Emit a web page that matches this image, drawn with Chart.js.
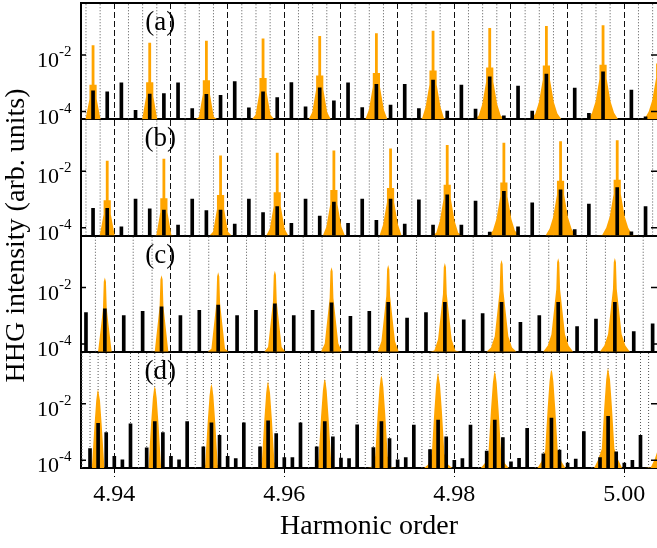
<!DOCTYPE html>
<html>
<head>
<meta charset="utf-8">
<script src="https://cdn.jsdelivr.net/npm/chart.js@4.4.0/dist/chart.umd.min.js"></script>
<style>
  html, body { margin: 0; padding: 0; background: #fff; }
  #wrap { width: 657px; height: 548px; }
</style>
</head>
<body>
<div id="wrap"><canvas id="hhgChart" width="657" height="548"></canvas></div>
<script>
// x axis (harmonic order)
const xMin = 4.936082;
const xMax = 5.003847;
const xTickVals = [4.94, 4.96, 4.98, 5.00];
const dashedLines = [4.94, 4.946667, 4.953333, 4.96, 4.966667, 4.973333, 4.98, 4.986667, 4.993333, 5.00];

// y axes, log10 of the intensity, same range in every panel
const yMinLog = -4.27;
const yMaxLog = -0.155;
const yTickLog = [-4, -2];
const panelIds = ['ya', 'yb', 'yc', 'yd'];
const panelNames = ['(a)', '(b)', '(c)', '(d)'];
const panelLabelX = 4.9454;

// panels (a) and (b) share the same sampling points
const abSlots = [
  4.9375, 4.939167, 4.940833, 4.9425,
  4.944167, 4.945833, 4.9475, 4.949167,
  4.950833, 4.9525, 4.954167, 4.955833,
  4.9575, 4.959167, 4.960833, 4.9625,
  4.964167, 4.965833, 4.9675, 4.969167,
  4.970833, 4.9725, 4.974167, 4.975833,
  4.9775, 4.979167, 4.980833, 4.9825,
  4.984167, 4.985833, 4.9875, 4.989167,
  4.990833, 4.9925, 4.994167, 4.995833,
  4.9975, 4.999167, 5.000833, 5.0025
];
const aBarsLog = [
  -3.26, -3.30, -2.98, -3.95,
  -3.38, -3.36, -2.98, -3.89,
  -3.39, -3.42, -2.94, -3.87,
  -3.30, -3.50, -2.97, -3.83,
  -3.16, -3.62, -2.98, -3.86,
  -3.03, -3.77, -3.03, -3.89,
  -2.88, -3.98, -3.06, -3.91,
  -2.77, -4.15, -3.10, -3.98,
  -2.67, null, -3.17, -4.06,
  -2.59, null, -3.24, -4.18
];
const bBarsLog = [
  -3.31, -3.31, -3.96, -2.98,
  -3.33, -3.37, -3.90, -2.98,
  -3.39, -3.37, -3.87, -2.98,
  -3.46, -3.25, -3.84, -2.98,
  -3.58, -3.09, -3.84, -2.98,
  -3.73, -2.98, -3.87, -3.01,
  -3.90, -2.83, -3.90, -3.05,
  -4.15, -2.71, -3.96, -3.11,
  null, -2.65, -4.06, -3.16,
  null, -2.57, -4.14, -3.25
];
const aPeakX = [4.9375, 4.944167, 4.950833, 4.9575, 4.964167, 4.970833, 4.9775, 4.984167, 4.990833, 4.9975, 5.004167];
const aPeakLog = [-1.65, -1.56, -1.49, -1.41, -1.32, -1.23, -1.14, -1.04, -0.97, -0.94, -0.90];
const bPeakX = [4.939167, 4.945833, 4.9525, 4.959167, 4.965833, 4.9725, 4.979167, 4.985833, 4.9925, 4.999167];
const bPeakLog = [-1.62, -1.55, -1.44, -1.34, -1.26, -1.19, -1.07, -0.99, -0.93, -0.90];
const abDotted = [
  4.936667, 4.938333, 4.941667, 4.943333, 4.945, 4.948333, 4.95, 4.951667, 4.955,
  4.956667, 4.958333, 4.961667, 4.963333, 4.965, 4.968333, 4.97, 4.971667, 4.975,
  4.976667, 4.978333, 4.981667, 4.983333, 4.985, 4.988333, 4.99, 4.991667, 4.995,
  4.996667, 4.998333, 5.001667, 5.003333
];

// panel (c)
const cSlots = [
  4.936667, 4.938889, 4.941111, 4.943333, 4.945556, 4.947778, 4.95, 4.952222,
  4.954444, 4.956667, 4.958889, 4.961111, 4.963333, 4.965556, 4.967778, 4.97,
  4.972222, 4.974444, 4.976667, 4.978889, 4.981111, 4.983333, 4.985556, 4.987778,
  4.99, 4.992222, 4.994444, 4.996667, 4.998889, 5.001111, 5.003333
];
const cBarsLog = [
  -2.88, -2.75, -2.99, -2.84, -2.68, -2.99, -2.80, -2.62,
  -2.99, -2.80, -2.57, -2.99, -2.80, -2.54, -3.02, -2.84,
  -2.52, -3.08, -2.88, -2.52, -3.14, -2.92, -2.52, -3.23,
  -2.99, -2.52, -3.38, -3.11, -2.52, -3.56, -3.28
];
const cPeakX = [4.938889, 4.945556, 4.952222, 4.958889, 4.965556, 4.972222, 4.978889, 4.985556, 4.992222, 4.998889];
const cPeakLog = [-1.64, -1.56, -1.46, -1.40, -1.28, -1.20, -1.13, -1.02, -0.96, -0.95];
const cDotted = [
  4.937778, 4.942222, 4.944444, 4.948889, 4.951111, 4.955556, 4.957778, 4.962222,
  4.964444, 4.968889, 4.971111, 4.975556, 4.977778, 4.982222, 4.984444, 4.988889,
  4.991111, 4.995556, 4.997778, 5.002222
];

// panel (d)
const dSlots = [
  4.937143, 4.938095, 4.939048, 4.94, 4.940952, 4.941905,
  4.94381, 4.944762, 4.945714, 4.946667, 4.947619, 4.948571,
  4.950476, 4.951429, 4.952381, 4.953333, 4.954286, 4.955238,
  4.957143, 4.958095, 4.959048, 4.96, 4.960952, 4.961905,
  4.96381, 4.964762, 4.965714, 4.966667, 4.967619, 4.968571,
  4.970476, 4.971429, 4.972381, 4.973333, 4.974286, 4.975238,
  4.977143, 4.978095, 4.979048, 4.98, 4.980952, 4.981905,
  4.98381, 4.984762, 4.985714, 4.986667, 4.987619, 4.988571,
  4.990476, 4.991429, 4.992381, 4.993333, 4.994286, 4.995238,
  4.997143, 4.998095, 4.999048, 5.0, 5.000952, 5.001905
];
const dBarsLog = [
  -3.58, -2.69, -3.02, -3.86, -3.98, -2.71,
  -3.56, -2.63, -3.02, -3.86, -3.98, -2.63,
  -3.52, -2.67, -3.11, -3.86, -3.94, -2.67,
  -3.52, -2.60, -3.05, -3.90, -3.90, -2.67,
  -3.52, -2.63, -3.17, -3.92, -3.94, -2.74,
  -3.55, -2.63, -3.23, -3.98, -3.90, -2.75,
  -3.62, -2.57, -3.17, -4.00, -3.94, -2.75,
  -3.67, -2.57, -3.19, -4.05, -3.93, -2.87,
  -3.77, -2.50, -3.64, -4.10, -3.95, -2.98,
  -3.90, -2.44, -3.70, -4.10, -4.00, -3.11
];
const dPeakX = [4.938095, 4.944762, 4.951429, 4.958095, 4.964762, 4.971429, 4.978095, 4.984762, 4.991429, 4.998095, 5.004762];
const dPeakLog = [-1.48, -1.38, -1.30, -1.20, -1.12, -1.00, -0.90, -0.85, -0.79, -0.73, -0.70];
const dDotted = [
  4.93619,
  4.937143, 4.938095, 4.939048, 4.941905, 4.942857,
  4.94381, 4.944762, 4.945714, 4.948571, 4.949524,
  4.950476, 4.951429, 4.952381, 4.955238, 4.95619,
  4.957143, 4.958095, 4.959048, 4.961905, 4.962857,
  4.96381, 4.964762, 4.965714, 4.968571, 4.969524,
  4.970476, 4.971429, 4.972381, 4.975238, 4.97619,
  4.977143, 4.978095, 4.979048, 4.981905, 4.982857,
  4.98381, 4.984762, 4.985714, 4.988571, 4.989524,
  4.990476, 4.991429, 4.992381, 4.995238, 4.99619,
  4.997143, 4.998095, 4.999048, 5.001905, 5.002857
];

// shape of the orange lines: distance from the centre and fall in decades
const abShapeDx = [0, 0.000165, 0.000165, 0.000424, 0.000424, 0.000882, 0.001294, 0.001765, 0.002471];
const abShapeDrop = [0, 0, 1.4, 1.4, 1.9, 2.7, 3.1, 3.35, 3.6];
const cShapeDx = [0, 0.000129, 0.000224, 0.000412, 0.0008, 0.001235, 0.001765, 0.002471];
const cShapeDrop = [0, 0.15, 1.1, 1.62, 2.7, 3.1, 3.35, 3.6];
const dShapeDx = [0, 0.000094, 0.000224, 0.000447, 0.000741, 0.001176, 0.001647, 0.002353];
const dShapeDrop = [0, 0.1, 0.41, 1.37, 2.86, 3.25, 3.55, 3.8];

const ORANGE = '#ffa500';
const panelMin = Math.pow(10, yMinLog);
const panelMax = Math.pow(10, yMaxLog);

function barPoints(xs, logs) {
  return xs.map((x, i) => ({ x: x, y: logs[i] === null ? null : Math.pow(10, logs[i]) }));
}

function linePoints(xs, logs, dx, drop) {
  const pts = [];
  xs.forEach((c, i) => {
    for (let j = dx.length - 1; j >= 0; j--) {
      pts.push({ x: c - dx[j], y: Math.pow(10, Math.max(logs[i] - drop[j], yMinLog)) });
    }
    for (let j = 0; j < dx.length; j++) {
      pts.push({ x: c + dx[j], y: Math.pow(10, Math.max(logs[i] - drop[j], yMinLog)) });
    }
    pts.push({ x: c + dx[dx.length - 1], y: null });
  });
  return pts;
}

function dottedPoints(xs) {
  const pts = [];
  xs.forEach(x => {
    pts.push({ x: x, y: panelMin }, { x: x, y: panelMax }, { x: x, y: null });
  });
  return pts;
}

const panels = [
  { id: 'ya', slots: abSlots, bars: aBarsLog, peakX: aPeakX, peakLog: aPeakLog, dotted: abDotted, dx: abShapeDx, drop: abShapeDrop },
  { id: 'yb', slots: abSlots, bars: bBarsLog, peakX: bPeakX, peakLog: bPeakLog, dotted: abDotted, dx: abShapeDx, drop: abShapeDrop },
  { id: 'yc', slots: cSlots, bars: cBarsLog, peakX: cPeakX, peakLog: cPeakLog, dotted: cDotted, dx: cShapeDx, drop: cShapeDrop },
  { id: 'yd', slots: dSlots, bars: dBarsLog, peakX: dPeakX, peakLog: dPeakLog, dotted: dDotted, dx: dShapeDx, drop: dShapeDrop }
];

const datasets = [];
panels.forEach(p => {
  datasets.push({
    type: 'line',
    data: dottedPoints(p.dotted),
    yAxisID: p.id,
    xAxisID: 'x',
    borderColor: '#555',
    borderWidth: 1,
    borderDash: [1, 2],
    pointRadius: 0,
    fill: false,
    spanGaps: false,
    order: 3
  });
  datasets.push({
    type: 'line',
    data: linePoints(p.peakX, p.peakLog, p.dx, p.drop),
    yAxisID: p.id,
    xAxisID: 'x',
    borderColor: 'rgba(255,165,0,0)',
    backgroundColor: ORANGE,
    borderWidth: 0,
    pointRadius: 0,
    tension: 0,
    fill: 'start',
    spanGaps: false,
    order: 2
  });
  datasets.push({
    type: 'bar',
    data: barPoints(p.slots, p.bars),
    yAxisID: p.id,
    xAxisID: 'x',
    backgroundColor: '#000',
    borderWidth: 0,
    grouped: false,
    barThickness: 3,
    maxBarThickness: 3,
    order: 1
  });
});

function panelAxis(weight) {
  return {
    type: 'logarithmic',
    position: 'left',
    stack: 'panels',
    stackWeight: 1,
    weight: weight,
    min: panelMin,
    max: panelMax,
    bounds: 'data',
    beginAtZero: false,
    afterBuildTicks: axis => {
      axis.ticks = [panelMin, Math.pow(10, yTickLog[0]), Math.pow(10, yTickLog[1]), panelMax].map(v => ({ value: v }));
    },
    afterFit: axis => { axis.width = 60; },
    ticks: { display: false },
    grid: {
      drawTicks: false,
      drawOnChartArea: true,
      color: '#000',
      lineWidth: c => (c.index === 0 || c.index === 3) ? 2 : 0
    },
    border: { display: true, color: '#000', width: 2 }
  };
}

const axisText = {
  id: 'axisText',
  afterDraw(chart) {
    const ctx = chart.ctx;
    const area = chart.chartArea;
    ctx.save();
    ctx.fillStyle = '#000';
    ctx.strokeStyle = '#000';
    ctx.lineWidth = 1.5;
    panelIds.forEach((id, i) => {
      const sc = chart.scales[id];
      yTickLog.forEach(e => {
        const y = sc.getPixelForValue(Math.pow(10, e));
        ctx.beginPath();
        ctx.moveTo(area.left, y);
        ctx.lineTo(area.left + 5, y);
        ctx.moveTo(area.right, y);
        ctx.lineTo(area.right - 6, y);
        ctx.stroke();
        ctx.textBaseline = 'alphabetic';
        ctx.textAlign = 'right';
        ctx.font = '22px "Liberation Serif", serif';
        ctx.fillText('10', 59, y + 12);
        ctx.textAlign = 'left';
        ctx.font = '15px "Liberation Serif", serif';
        ctx.fillText(String(e), 59, y + 1);
      });
      ctx.textAlign = 'center';
      ctx.font = '27px "Liberation Serif", serif';
      ctx.fillText(panelNames[i], chart.scales.x.getPixelForValue(panelLabelX), sc.top + 27);
    });
    ctx.translate(24, (area.top + area.bottom) / 2);
    ctx.rotate(-Math.PI / 2);
    ctx.textAlign = 'center';
    ctx.font = '28px "Liberation Serif", serif';
    ctx.fillText('HHG intensity (arb. units)', 0, 0);
    ctx.restore();
  }
};

const chart = new Chart(document.getElementById('hhgChart').getContext('2d'), {
  type: 'bar',
  data: { datasets: datasets },
  plugins: [axisText],
  options: {
    responsive: false,
    animation: false,
    devicePixelRatio: 1,
    layout: { padding: { left: 21, right: 0, top: 3, bottom: 0 } },
    plugins: { legend: { display: false }, tooltip: { enabled: false } },
    scales: {
      x: {
        type: 'linear',
        position: 'bottom',
        min: xMin,
        max: xMax,
        bounds: 'data',
        offset: false,
        afterBuildTicks: axis => { axis.ticks = xTickVals.map(v => ({ value: v })); },
        afterFit: axis => { axis.height = 80; },
        ticks: {
          autoSkip: false,
          maxRotation: 0,
          padding: 3,
          color: '#000',
          font: { family: '"Liberation Serif", serif', size: 24 },
          callback: v => Number(v).toFixed(2)
        },
        grid: {
          offset: false,
          drawOnChartArea: false,
          drawTicks: true,
          tickLength: 9,
          tickColor: '#000',
          tickWidth: 1,
          tickBorderDash: [4, 3],
          color: '#000'
        },
        border: { display: true, color: '#000', width: 2 },
        title: {
          display: true,
          text: 'Harmonic order',
          color: '#000',
          font: { family: '"Liberation Serif", serif', size: 28 },
          padding: { top: 0, bottom: 5 }
        }
      },
      xd: {
        type: 'linear',
        position: 'top',
        min: xMin,
        max: xMax,
        bounds: 'data',
        offset: false,
        afterBuildTicks: axis => { axis.ticks = dashedLines.map(v => ({ value: v })); },
        afterFit: axis => { axis.height = 0; },
        ticks: { display: false },
        grid: { offset: false, drawTicks: false, drawOnChartArea: true, color: '#111', lineWidth: 1 },
        border: { display: false, dash: [6, 3] }
      },
      ya: panelAxis(4),
      yb: panelAxis(3),
      yc: panelAxis(2),
      yd: panelAxis(1)
    }
  }
});
</script>
</body>
</html>
